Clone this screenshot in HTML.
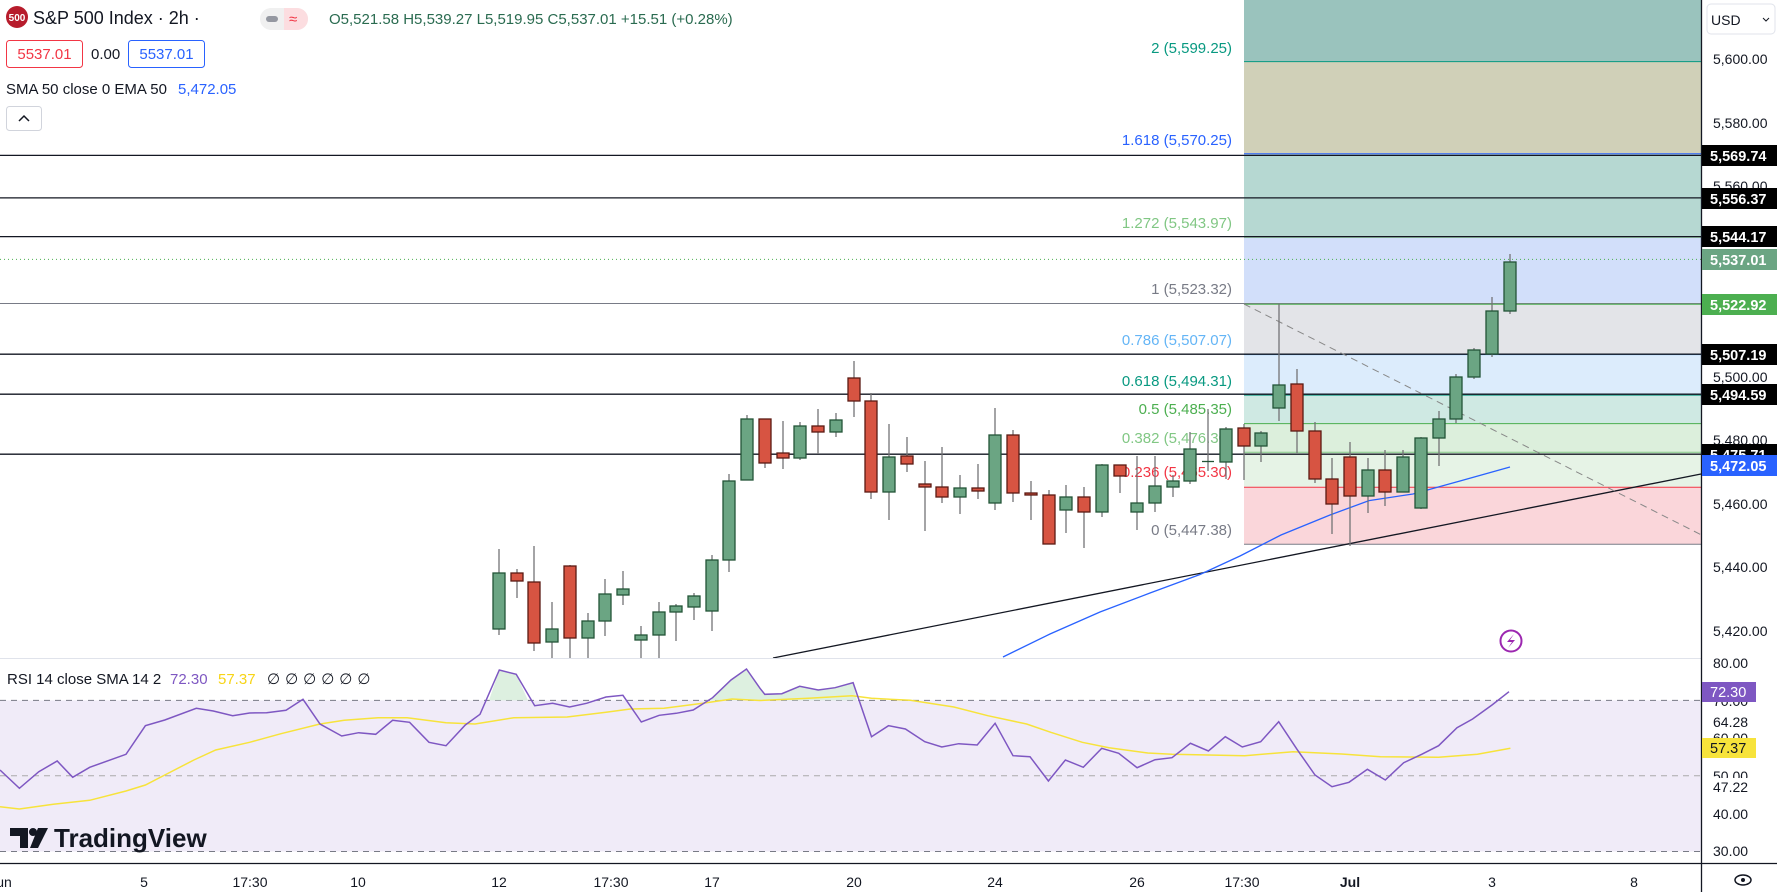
<!DOCTYPE html>
<html><head><meta charset="utf-8"><style>
html,body{margin:0;padding:0;background:#fff;width:1777px;height:892px;overflow:hidden;font-family:"Liberation Sans",sans-serif;}
svg text{font-family:"Liberation Sans",sans-serif;}
</style></head><body>
<svg width="1777" height="892" viewBox="0 0 1777 892" xmlns="http://www.w3.org/2000/svg">
<rect x="0" y="0" width="1777" height="892" fill="#fff"/>
<g>
<rect x="1244" y="0" width="457" height="61.6" fill="#9ac3bd"/>
<rect x="1244" y="61.6" width="457" height="92.1" fill="#d0d0b8"/>
<rect x="1244" y="153.7" width="457" height="83.6" fill="#b6d8d2"/>
<rect x="1244" y="237.3" width="457" height="65.6" fill="#d2dffa"/>
<rect x="1244" y="302.9" width="457" height="51.7" fill="#e3e4e8"/>
<rect x="1244" y="354.6" width="457" height="40.5" fill="#dcecfc"/>
<rect x="1244" y="395.1" width="457" height="28.5" fill="#cfe9e3"/>
<rect x="1244" y="423.6" width="457" height="28.7" fill="#dcefdc"/>
<rect x="1244" y="452.3" width="457" height="35" fill="#e6f3e6"/>
<rect x="1244" y="487.3" width="457" height="56.9" fill="#fad6da"/>
<line x1="1244" y1="61.6" x2="1701" y2="61.6" stroke="#089981"/>
<line x1="1244" y1="153.7" x2="1701" y2="153.7" stroke="#2962ff"/>
<line x1="1244" y1="237.3" x2="1701" y2="237.3" stroke="#81c784"/>
<line x1="1244" y1="354.6" x2="1701" y2="354.6" stroke="#64b5f6"/>
<line x1="1244" y1="395.1" x2="1701" y2="395.1" stroke="#089981"/>
<line x1="1244" y1="423.6" x2="1701" y2="423.6" stroke="#4caf50"/>
<line x1="1244" y1="452.3" x2="1701" y2="452.3" stroke="#81c784"/>
<line x1="1244" y1="487.3" x2="1701" y2="487.3" stroke="#f23645"/>
<line x1="1244" y1="544.2" x2="1701" y2="544.2" stroke="#787b86"/>
</g>
<line x1="0" y1="303.5" x2="1701" y2="303.5" stroke="#787b86"/>
<line x1="1244" y1="304.2" x2="1701" y2="304.2" stroke="#4caf50"/>
<g stroke="#131722" stroke-width="1.3">
<line x1="0" y1="155.4" x2="1701" y2="155.4"/>
<line x1="0" y1="197.9" x2="1701" y2="197.9"/>
<line x1="0" y1="236.6" x2="1701" y2="236.6"/>
<line x1="0" y1="354.2" x2="1701" y2="354.2"/>
<line x1="0" y1="394.2" x2="1701" y2="394.2"/>
<line x1="0" y1="454.2" x2="1701" y2="454.2"/>
</g>
<line x1="0" y1="259.4" x2="1701" y2="259.4" stroke="#4caf50" stroke-dasharray="1,3"/>
<g font-size="15" text-anchor="end">
<text x="1232" y="53" fill="#089981">2 (5,599.25)</text>
<text x="1232" y="145" fill="#2962ff">1.618 (5,570.25)</text>
<text x="1232" y="228" fill="#81c784">1.272 (5,543.97)</text>
<text x="1232" y="294" fill="#787b86">1 (5,523.32)</text>
<text x="1232" y="345" fill="#64b5f6">0.786 (5,507.07)</text>
<text x="1232" y="386" fill="#089981">0.618 (5,494.31)</text>
<text x="1232" y="414" fill="#4caf50">0.5 (5,485.35)</text>
<text x="1232" y="443" fill="#81c784">0.382 (5,476.30)</text>
<text x="1232" y="477" fill="#f23645">0.236 (5,465.30)</text>
<text x="1232" y="535" fill="#787b86">0 (5,447.38)</text>
</g>
<line x1="773" y1="658" x2="1701" y2="474" stroke="#131722" stroke-width="1.3"/>
<line x1="1244" y1="304" x2="1701" y2="534.7" stroke="#888" stroke-dasharray="7,5"/>
<polyline fill="none" stroke="#2962ff" stroke-width="1.3" points="1003,657 1050,634 1100,612 1150,593 1200,574.5 1240,556 1281,535 1330,515 1369,500.6 1413,494 1460,481 1510,467"/>
<g stroke="#737375" stroke-width="1.3">
<line x1="499" y1="549" x2="499" y2="635"/><line x1="517" y1="569" x2="517" y2="598"/><line x1="534" y1="546" x2="534" y2="651"/><line x1="552" y1="602" x2="552" y2="658"/><line x1="570" y1="565" x2="570" y2="658"/><line x1="588" y1="613" x2="588" y2="658"/><line x1="605" y1="579" x2="605" y2="636"/><line x1="623" y1="571" x2="623" y2="605"/><line x1="641" y1="626" x2="641" y2="658"/><line x1="659" y1="602" x2="659" y2="658"/><line x1="676" y1="604" x2="676" y2="641"/><line x1="694" y1="593" x2="694" y2="620"/><line x1="712" y1="555" x2="712" y2="631"/><line x1="729" y1="474" x2="729" y2="572"/><line x1="747" y1="415" x2="747" y2="480"/><line x1="765" y1="419" x2="765" y2="468"/><line x1="783" y1="421" x2="783" y2="469"/><line x1="800" y1="422" x2="800" y2="460"/><line x1="818" y1="409" x2="818" y2="454"/><line x1="836" y1="413" x2="836" y2="437"/><line x1="854" y1="361" x2="854" y2="417"/><line x1="871" y1="393" x2="871" y2="499"/><line x1="889" y1="424" x2="889" y2="520"/><line x1="907" y1="437" x2="907" y2="472"/><line x1="925" y1="461" x2="925" y2="531"/><line x1="942" y1="447" x2="942" y2="503"/><line x1="960" y1="475" x2="960" y2="514"/><line x1="978" y1="464" x2="978" y2="499"/><line x1="995" y1="408" x2="995" y2="510"/><line x1="1013" y1="430" x2="1013" y2="502"/><line x1="1031" y1="481" x2="1031" y2="520"/><line x1="1049" y1="490" x2="1049" y2="544"/><line x1="1066" y1="485" x2="1066" y2="533"/><line x1="1084" y1="487" x2="1084" y2="548"/><line x1="1102" y1="464" x2="1102" y2="517"/><line x1="1120" y1="465" x2="1120" y2="493"/><line x1="1137" y1="456" x2="1137" y2="530"/><line x1="1155" y1="456" x2="1155" y2="512"/><line x1="1173" y1="475" x2="1173" y2="497"/><line x1="1190" y1="432" x2="1190" y2="484"/><line x1="1208" y1="409" x2="1208" y2="471"/><line x1="1226" y1="427" x2="1226" y2="479"/><line x1="1244" y1="424" x2="1244" y2="480"/><line x1="1261" y1="431" x2="1261" y2="462"/><line x1="1279" y1="304" x2="1279" y2="421"/><line x1="1297" y1="369" x2="1297" y2="453"/><line x1="1315" y1="422" x2="1315" y2="483"/><line x1="1332" y1="458" x2="1332" y2="534"/><line x1="1350" y1="442" x2="1350" y2="546"/><line x1="1368" y1="458" x2="1368" y2="513"/><line x1="1385" y1="450" x2="1385" y2="506"/><line x1="1403" y1="450" x2="1403" y2="492"/><line x1="1421" y1="437" x2="1421" y2="509"/><line x1="1439" y1="411" x2="1439" y2="466"/><line x1="1456" y1="374" x2="1456" y2="423"/><line x1="1474" y1="348" x2="1474" y2="379"/><line x1="1492" y1="297" x2="1492" y2="357"/><line x1="1510" y1="254" x2="1510" y2="314"/>
</g>
<g fill="#6ba583" stroke="#225437" stroke-width="1.3">
<rect x="493" y="573" width="12" height="56"/><rect x="546" y="629" width="12" height="13"/><rect x="582" y="621" width="12" height="17"/><rect x="599" y="594" width="12" height="27"/><rect x="617" y="589" width="12" height="6"/><rect x="635" y="635" width="12" height="5"/><rect x="653" y="612" width="12" height="23"/><rect x="670" y="606" width="12" height="6"/><rect x="688" y="596" width="12" height="11"/><rect x="706" y="560" width="12" height="51"/><rect x="723" y="481" width="12" height="79"/><rect x="741" y="419" width="12" height="61"/><rect x="794" y="426" width="12" height="32"/><rect x="830" y="420" width="12" height="12"/><rect x="883" y="457" width="12" height="35"/><rect x="954" y="488" width="12" height="9"/><rect x="989" y="435" width="12" height="68"/><rect x="1060" y="497" width="12" height="13"/><rect x="1096" y="465" width="12" height="47"/><rect x="1131" y="503" width="12" height="9"/><rect x="1149" y="486" width="12" height="17"/><rect x="1167" y="481" width="12" height="6"/><rect x="1184" y="449" width="12" height="32"/><rect x="1220" y="429" width="12" height="33"/><rect x="1255" y="433" width="12" height="13"/><rect x="1273" y="385" width="12" height="23"/><rect x="1362" y="470" width="12" height="26"/><rect x="1397" y="457" width="12" height="35"/><rect x="1415" y="438" width="12" height="70"/><rect x="1433" y="419" width="12" height="19"/><rect x="1450" y="377" width="12" height="42"/><rect x="1468" y="350" width="12" height="27"/><rect x="1486" y="311" width="12" height="43"/><rect x="1504" y="262" width="12" height="49"/>
</g>
<g fill="#d75442" stroke="#5b1a13" stroke-width="1.3">
<rect x="511" y="573" width="12" height="8"/><rect x="528" y="582" width="12" height="61"/><rect x="564" y="566" width="12" height="72"/><rect x="759" y="419" width="12" height="44"/><rect x="777" y="453" width="12" height="5"/><rect x="812" y="426" width="12" height="6"/><rect x="848" y="378" width="12" height="23"/><rect x="865" y="401" width="12" height="91"/><rect x="901" y="456" width="12" height="8"/><rect x="919" y="484" width="12" height="3"/><rect x="936" y="487" width="12" height="10"/><rect x="972" y="488" width="12" height="3"/><rect x="1007" y="435" width="12" height="58"/><rect x="1025" y="493" width="12" height="2"/><rect x="1043" y="495" width="12" height="49"/><rect x="1078" y="497" width="12" height="15"/><rect x="1114" y="465" width="12" height="11"/><rect x="1238" y="428" width="12" height="18"/><rect x="1291" y="384" width="12" height="47"/><rect x="1309" y="431" width="12" height="48"/><rect x="1326" y="479" width="12" height="25"/><rect x="1344" y="457" width="12" height="39"/><rect x="1379" y="470" width="12" height="22"/>
</g>
<line x1="1202" y1="461.5" x2="1214" y2="461.5" stroke="#225437" stroke-width="1.3"/>
<circle cx="1511" cy="641" r="10.5" fill="#fff" stroke="#9c27b0" stroke-width="2"/>
<path d="M1514,634 L1507,642 L1512,642 L1508,648 L1515,640 L1510,640 Z" fill="#9c27b0"/>
<line x1="0" y1="658.5" x2="1701" y2="658.5" stroke="#e0e3eb"/>
<rect x="0" y="700.4" width="1701" height="151.1" fill="#f0ebf8"/>
<g stroke="#787b86" stroke-dasharray="6,5">
<line x1="0" y1="700.4" x2="1701" y2="700.4"/>
<line x1="0" y1="775.8" x2="1701" y2="775.8" stroke="#aaa"/>
<line x1="0" y1="851.5" x2="1701" y2="851.5"/>
</g>
<polygon fill="#d5ecd8" opacity="0.8" points="489,700.4 499.3,670 516.2,674.3 528,700.4"/>
<polygon fill="#d5ecd8" opacity="0.8" points="706,700.4 712.6,697.7 731,680 746.5,669 760,688.3 764.8,694.3 781.8,693.7 799.7,686.3 818.2,690 835.1,687.7 853.1,682.7 857,700.4"/>
<polyline fill="none" stroke="#f7e33b" stroke-width="1.5" points="0,806.7 19.4,809 53.3,804.3 89.7,800.3 126,791 145.4,785 164.8,775 193.9,760 215.7,750 249.6,742.3 281,733.7 320,724 344.2,720.3 378.1,717.7 407.2,717.7 446,722.7 475,724 513.8,717.7 567.1,717 606,712.3 630.2,709 664,708.3 702.9,703.3 732,699 760,700.5 808.5,698.3 852.1,695.7 871.5,698.3 910.3,700.3 953.9,707 987.8,715.7 1026.6,724 1050.8,732.3 1082.3,742.3 1109,747.7 1147.8,753 1172,754.3 1244.7,755.7 1293.2,751.7 1341.7,754 1380.5,756.7 1438.6,757.3 1477.4,754.3 1510.4,748.3"/>
<polyline fill="none" stroke="#7e57c2" stroke-width="1.5" points="0,770 19.4,788.3 38.8,771.7 57.2,761 72.7,777.3 89.7,767.3 126,754.3 145.4,725.7 164.8,720 196.3,708.3 213.3,711 232.7,715.7 249.6,713 266.6,712.7 286,710.3 303,699.3 320,724 341.7,736 358.7,732.7 375.7,734.3 392.6,720.3 409.6,722.3 429,742.3 446,745.7 465.3,725 480,714.3 499.3,670 516.2,674.3 534.7,705.7 552.6,703.3 569.6,707 586.5,703.3 606,697 622.9,695.3 641.3,722 659.2,715.3 676.2,713.3 693.2,710 712.6,697.7 731,680 746.5,669 760,688.3 764.8,694.3 781.8,693.7 799.7,686.3 818.2,690 835.1,687.7 853.1,682.7 871.5,736.7 888.5,725.7 905.4,729 924.8,741.7 941.8,747 958.7,743.7 977.2,745 995.1,723.3 1013,755.7 1030,756.7 1048.4,781 1065.4,760 1083.3,767.3 1101.7,748.3 1118.7,753.3 1137.1,767.7 1155,759.7 1172,757.7 1190.4,743.3 1208.4,751 1225.3,736.7 1242.3,747 1260.7,741.7 1278.7,721.7 1297,749.3 1315,775 1332,786.7 1349,782.3 1367.4,769.3 1385.3,780 1403.7,762.7 1421.7,754.3 1438.6,745.7 1457,727.7 1472.6,719 1492,705 1509,691.7"/>
<g fill="#131722">
<path d="M10,828 h18 v20 h-8 v-12 h-10 z"/>
<circle cx="33" cy="832" r="4"/>
<path d="M38,828 h10 l-10,20 h-8 z"/>
</g>
<text x="54" y="847" font-size="26" font-weight="bold" fill="#131722">TradingView</text>
<text x="7" y="684" font-size="15" fill="#131722">RSI 14 close SMA 14 2</text>
<text x="170" y="684" font-size="15" fill="#7e57c2">72.30</text>
<text x="218" y="684" font-size="15" fill="#f7d417">57.37</text>
<text x="267" y="684" font-size="15" fill="#131722" letter-spacing="5">∅∅∅∅∅∅</text>
<line x1="1701.5" y1="0" x2="1701.5" y2="892" stroke="#131722" stroke-width="1.3"/>
<line x1="0" y1="863.5" x2="1777" y2="863.5" stroke="#131722" stroke-width="1.3"/>
<g font-size="14" fill="#131722">
<text x="1713" y="64">5,600.00</text>
<text x="1713" y="128">5,580.00</text>
<text x="1713" y="191">5,560.00</text>
<text x="1713" y="382">5,500.00</text>
<text x="1713" y="445">5,480.00</text>
<text x="1713" y="509">5,460.00</text>
<text x="1713" y="572">5,440.00</text>
<text x="1713" y="636">5,420.00</text>
<text x="1713" y="668">80.00</text>
<text x="1713" y="706">70.00</text>
<text x="1713" y="743">60.00</text>
<rect x="1703" y="713" width="60" height="16" fill="#fff"/>
<text x="1713" y="727">64.28</text>
<text x="1713" y="781">50.00</text>
<rect x="1703" y="778" width="60" height="16" fill="#fff"/>
<text x="1713" y="792">47.22</text>
<text x="1713" y="819">40.00</text>
<text x="1713" y="856">30.00</text>
</g>
<g font-size="14.5" font-weight="bold" fill="#fff">
<rect x="1702" y="145" width="75" height="21" fill="#000"/><text x="1710" y="161">5,569.74</text>
<rect x="1702" y="188" width="75" height="21" fill="#000"/><text x="1710" y="204">5,556.37</text>
<rect x="1702" y="226" width="75" height="21" fill="#000"/><text x="1710" y="242">5,544.17</text>
<rect x="1702" y="249" width="75" height="21" fill="#6ba583"/><text x="1710" y="265">5,537.01</text>
<rect x="1702" y="294" width="75" height="21" fill="#4caf50"/><text x="1710" y="310">5,522.92</text>
<rect x="1702" y="344" width="75" height="21" fill="#000"/><text x="1710" y="360">5,507.19</text>
<rect x="1702" y="384" width="75" height="21" fill="#000"/><text x="1710" y="400">5,494.59</text>
<rect x="1702" y="444" width="75" height="21" fill="#000"/><text x="1710" y="460">5,475.71</text>
<rect x="1702" y="455" width="75" height="21" fill="#2962ff"/><text x="1710" y="471">5,472.05</text>
<rect x="1702" y="682" width="54" height="20" fill="#7e57c2"/><text x="1710" y="697" font-weight="normal">72.30</text>
<rect x="1702" y="738" width="54" height="20" fill="#f7e33b"/><text x="1710" y="753" font-weight="normal" fill="#131722">57.37</text>
</g>
<rect x="1707" y="4" width="68" height="30" rx="4" fill="#fff" stroke="#e0e3eb"/>
<text x="1711" y="25" font-size="14" fill="#131722">USD</text>
<path d="M1763,18 l3,3 l3,-3" fill="none" stroke="#131722"/>
<ellipse cx="1743" cy="880" rx="8" ry="5" fill="none" stroke="#131722" stroke-width="1.5"/>
<circle cx="1743" cy="880" r="2" fill="#131722"/>
<g font-size="14" fill="#131722" text-anchor="middle">
<text x="4" y="887">un</text>
<text x="144" y="887">5</text>
<text x="250" y="887">17:30</text>
<text x="358" y="887">10</text>
<text x="499" y="887">12</text>
<text x="611" y="887">17:30</text>
<text x="712" y="887">17</text>
<text x="854" y="887">20</text>
<text x="995" y="887">24</text>
<text x="1137" y="887">26</text>
<text x="1242" y="887">17:30</text>
<text x="1350" y="887" font-weight="bold">Jul</text>
<text x="1492" y="887">3</text>
<text x="1634" y="887">8</text>
</g>
<circle cx="17" cy="17" r="11" fill="#b71c2c"/>
<text x="17" y="21" font-size="10" font-weight="bold" fill="#fff" text-anchor="middle">500</text>
<text x="33" y="24" font-size="18" fill="#131722">S&amp;P 500 Index · 2h ·</text>
<rect x="260" y="8" width="48" height="22" rx="11" fill="#f0f0f0"/>
<path d="M284,8 h13 a11,11 0 0 1 0,22 h-13 z" fill="#fcdde0"/>
<rect x="266" y="16" width="12" height="6" rx="3" fill="#9598a1"/>
<text x="289" y="24" font-size="15" fill="#f23645">≈</text>
<text x="329" y="24" font-size="15" fill="#2a6b50">O5,521.58 H5,539.27 L5,519.95 C5,537.01 +15.51 (+0.28%)</text>
<rect x="6.5" y="40.5" width="76" height="27" rx="3" fill="#fff" stroke="#f23645"/>
<text x="44.5" y="59" font-size="15" fill="#f23645" text-anchor="middle">5537.01</text>
<text x="91" y="59" font-size="15" fill="#131722">0.00</text>
<rect x="128.5" y="40.5" width="76" height="27" rx="3" fill="#fff" stroke="#2962ff"/>
<text x="166.5" y="59" font-size="15" fill="#2962ff" text-anchor="middle">5537.01</text>
<text x="6" y="94" font-size="15" fill="#131722">SMA 50 close 0 EMA 50</text>
<text x="178" y="94" font-size="15" fill="#2962ff">5,472.05</text>
<rect x="6.5" y="106.5" width="35" height="24" rx="3" fill="#fff" stroke="#d1d4dc"/>
<path d="M19,121 l5,-5 l5,5" fill="none" stroke="#131722" stroke-width="1.5"/>
</svg>
</body></html>
